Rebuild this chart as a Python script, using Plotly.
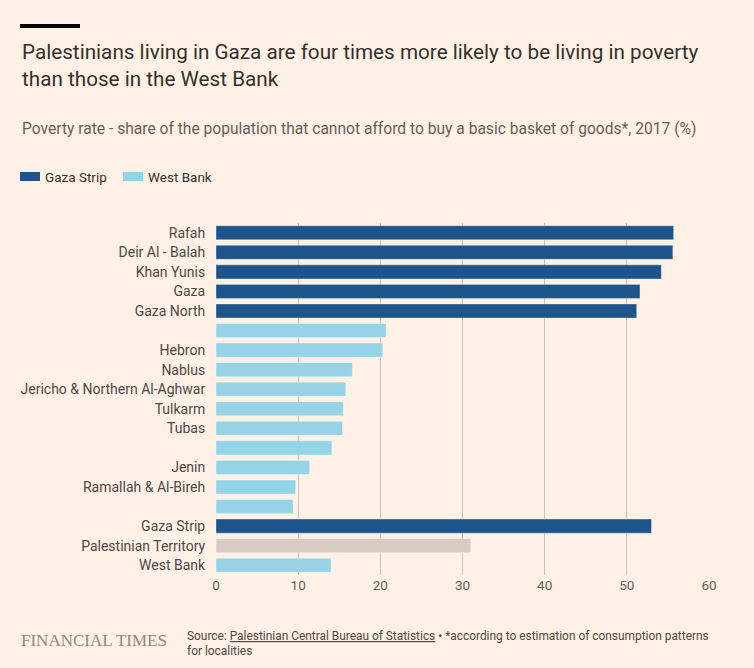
import plotly.graph_objects as go

categories = ["Rafah", "Deir Al - Balah", "Khan Yunis", "Gaza", "Gaza North", " ",
              "Hebron", "Nablus", "Jericho & Northern Al-Aghwar", "Tulkarm", "Tubas", "  ",
              "Jenin", "Ramallah & Al-Bireh", "   ", "Gaza Strip", "Palestinian Territory", "West Bank"]

gaza_cats = ["Rafah", "Deir Al - Balah", "Khan Yunis", "Gaza", "Gaza North", "Gaza Strip"]
gaza_vals = [55.7, 55.6, 54.2, 51.6, 51.2, 53.0]

wb_cats = [" ", "Hebron", "Nablus", "Jericho & Northern Al-Aghwar", "Tulkarm", "Tubas", "  ",
           "Jenin", "Ramallah & Al-Bireh", "   ", "West Bank"]
wb_vals = [20.7, 20.3, 16.6, 15.8, 15.5, 15.4, 14.1, 11.4, 9.7, 9.4, 14.0]

pt_cats = ["Palestinian Territory"]
pt_vals = [31.0]

x_ticks = [0, 10, 20, 30, 40, 50, 60]

BG = "#fff1e5"
FONT = "Roboto"
line = dict(color="rgba(255,255,255,0.35)", width=1)

fig = go.Figure()
fig.add_trace(go.Bar(y=gaza_cats, x=gaza_vals, orientation="h", name="Gaza Strip",
                     marker=dict(color="#1f548a", line=line), hoverinfo="x+y"))
fig.add_trace(go.Bar(y=wb_cats, x=wb_vals, orientation="h", name="West Bank",
                     marker=dict(color="#96d3e7", line=line), hoverinfo="x+y"))
fig.add_trace(go.Bar(y=pt_cats, x=pt_vals, orientation="h", name="Palestinian Territory",
                     marker=dict(color="#dacbc2", line=line), hoverinfo="x+y"))

fig.update_layout(
    width=754, height=668,
    paper_bgcolor=BG, plot_bgcolor=BG,
    margin=dict(l=216, r=45, t=223, b=93),
    barmode="overlay", bargap=0.28,
    showlegend=False,
    font=dict(family=FONT, color="#33302e"),
    xaxis=dict(range=[0, 60], tickvals=x_ticks, showgrid=True, gridcolor="#ccc1b7",
               gridwidth=1, zeroline=False, showline=False,
               tickfont=dict(size=13.5, color="#66605c"), ticks="", fixedrange=True),
    yaxis=dict(type="category", categoryorder="array", categoryarray=categories,
               autorange="reversed", showgrid=False, zeroline=False,
               ticks="outside", ticklen=7, tickcolor="rgba(0,0,0,0)",
               tickfont=dict(size=14, color="#4d4845"), fixedrange=True),
)


def px_x(px):
    return (px - 216) / 493


def px_y(py):
    return (668 - 93 - py) / 352


# top black line
fig.add_shape(type="rect", xref="paper", yref="paper",
              x0=px_x(20), x1=px_x(80), y0=px_y(24), y1=px_y(28),
              fillcolor="#000000", line_width=0)

# legend swatches
fig.add_shape(type="rect", xref="paper", yref="paper", x0=px_x(20), x1=px_x(40),
              y0=px_y(181), y1=px_y(172), fillcolor="#1f548a", line_width=0)
fig.add_shape(type="rect", xref="paper", yref="paper", x0=px_x(123), x1=px_x(143),
              y0=px_y(181), y1=px_y(172), fillcolor="#96d3e7", line_width=0)

ann = []
ann.append(dict(text="Palestinians living in Gaza are four times more likely to be living in poverty<br>than those in the West Bank",
                x=px_x(20), y=px_y(38), xref="paper", yref="paper", xanchor="left", yanchor="top",
                align="left", showarrow=False,
                font=dict(size=20.7, color="#33302e", family=FONT)))
ann.append(dict(text="Poverty rate - share of the population that cannot afford to buy a basic basket of goods*, 2017 (%)",
                x=px_x(20), y=px_y(129), xref="paper", yref="paper", xanchor="left", yanchor="middle",
                align="left", showarrow=False,
                font=dict(size=15.6, color="#66605c", family=FONT)))
ann.append(dict(text="Gaza Strip", x=px_x(43), y=px_y(177), xref="paper", yref="paper",
                xanchor="left", yanchor="middle", showarrow=False,
                font=dict(size=13.5, color="#33302e", family=FONT)))
ann.append(dict(text="West Bank", x=px_x(146), y=px_y(177), xref="paper", yref="paper",
                xanchor="left", yanchor="middle", showarrow=False,
                font=dict(size=13.5, color="#33302e", family=FONT)))
ann.append(dict(text="FINANCIAL TIMES", x=px_x(19), y=px_y(640), xref="paper", yref="paper",
                xanchor="left", yanchor="middle", showarrow=False,
                font=dict(size=17, color="#8f8883", family="Liberation Serif")))
ann.append(dict(text="Source: <u>Palestinian Central Bureau of Statistics</u> • *according to estimation of consumption patterns<br>for localities",
                x=px_x(185), y=px_y(627), xref="paper", yref="paper",
                xanchor="left", yanchor="top", align="left", showarrow=False,
                font=dict(size=11.9, color="#4d4845", family=FONT)))
fig.update_layout(annotations=ann)

fig.write_html("out.html", config={"displayModeBar": False},
               post_script="document.body.style.margin='0';document.body.style.background='#fff1e5';")
